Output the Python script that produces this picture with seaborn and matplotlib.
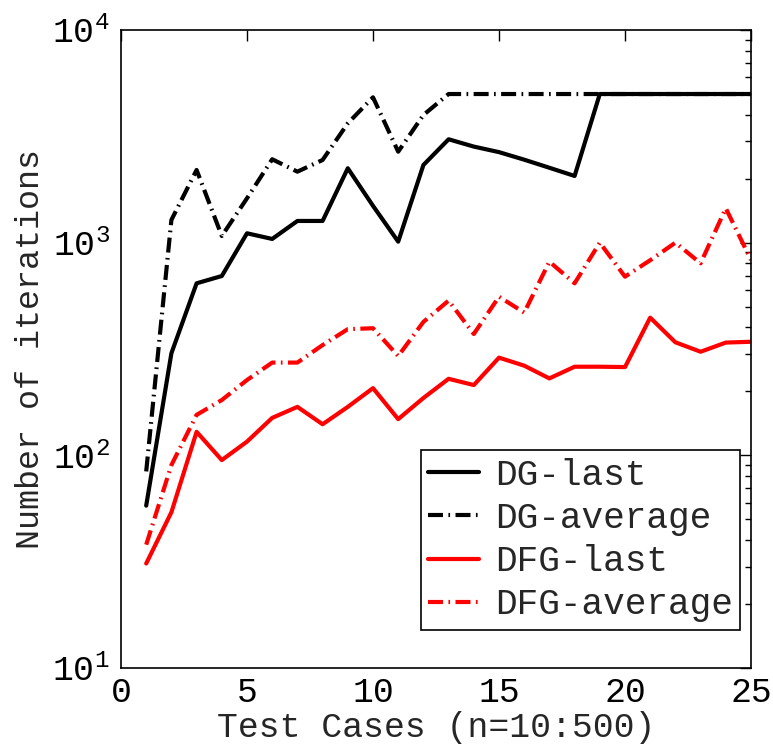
import numpy as np
import pandas as pd
import matplotlib
matplotlib.use("Agg")
import matplotlib.pyplot as plt
import seaborn as sns

cases = list(range(1, 26))
dg_last = [58, 302, 644, 697, 1107, 1041, 1265, 1265, 2238, 1490, 1011, 2318, 3063,
           2830, 2665, 2456, 2250, 2059, 5000, 5000, 5000, 5000, 5000, 5000, 5000]
dg_avg = [84, 1279, 2197, 1075, 1617, 2467, 2157, 2448, 3641, 4825, 2678, 3984, 5000,
          5000, 5000, 5000, 5000, 5000, 5000, 5000, 5000, 5000, 5000, 5000, 5000]
dfg_last = [31, 54, 129, 95, 116, 150, 169, 140, 169, 207, 148, 186, 229,
            214, 288, 264, 230, 261, 261, 260, 444, 340, 307, 339, 342]
dfg_avg = [38, 90, 155, 182, 226, 273, 273, 330, 392, 396, 293, 424, 534,
           372, 557, 469, 814, 644, 1000, 692, 827, 1000, 800, 1451, 829]
series_names = ["DG-last", "DG-average", "DFG-last", "DFG-average"]
xticks = [0, 5, 10, 15, 20, 25]

sns.set_style("white")
plt.rcParams["font.family"] = ["Liberation Mono", "DejaVu Sans Mono"]
plt.rcParams["mathtext.fontset"] = "custom"
plt.rcParams["mathtext.rm"] = "Liberation Mono"
plt.rcParams["mathtext.it"] = "Liberation Mono"
plt.rcParams["mathtext.bf"] = "Liberation Mono"
plt.rcParams["xtick.direction"] = "in"
plt.rcParams["ytick.direction"] = "in"

df = pd.concat([
    pd.DataFrame({"case": cases, "value": vals, "series": name})
    for name, vals in zip(series_names, [dg_last, dg_avg, dfg_last, dfg_avg])
])

palette = {"DG-last": "black", "DG-average": "black", "DFG-last": "#ff0000", "DFG-average": "#ff0000"}
dash_dot = (3.6, 1.3, 0.4, 1.3)
dashes = {"DG-last": "", "DG-average": dash_dot, "DFG-last": "", "DFG-average": dash_dot}

fig = plt.figure(figsize=(7.73, 7.49), dpi=100)
ax = fig.add_axes([121 / 773, 1 - 668 / 749, 630 / 773, 638 / 749])
sns.lineplot(data=df, x="case", y="value", hue="series", style="series",
             palette=palette, dashes=dashes, linewidth=3, ax=ax,
             hue_order=series_names, style_order=series_names)
ax.set_yscale("log")
ax.set_xlim(0, 25)
ax.set_ylim(10, 1e4)
ax.set_xticks(xticks)
ax.set_xticklabels([str(t) for t in xticks])
ax.tick_params(axis="both", which="both", top=True, right=True, labelsize=25, pad=8, colors="black")
ax.tick_params(axis="x", pad=6)
ax.tick_params(which="major", length=8, width=1)
ax.tick_params(which="minor", length=4, width=1)
for s in ax.spines.values():
    s.set_color("black")
    s.set_linewidth(1.2)
ax.set_xlabel("Test Cases (n=10:500)", fontsize=25, labelpad=1)
ax.set_ylabel("Number of iterations", fontsize=24, labelpad=5)

handles, labels = ax.get_legend_handles_labels()
leg = ax.legend(handles, labels, loc="lower right", fontsize=26, frameon=True,
                fancybox=False, framealpha=1, edgecolor="black", handlelength=1.4,
                labelspacing=0.23, borderpad=0.2, handletextpad=0.45,
                borderaxespad=0, bbox_to_anchor=(0.9825, 0.06))
leg.get_frame().set_linewidth(1.2)

fig.savefig("out.png", dpi=100)
